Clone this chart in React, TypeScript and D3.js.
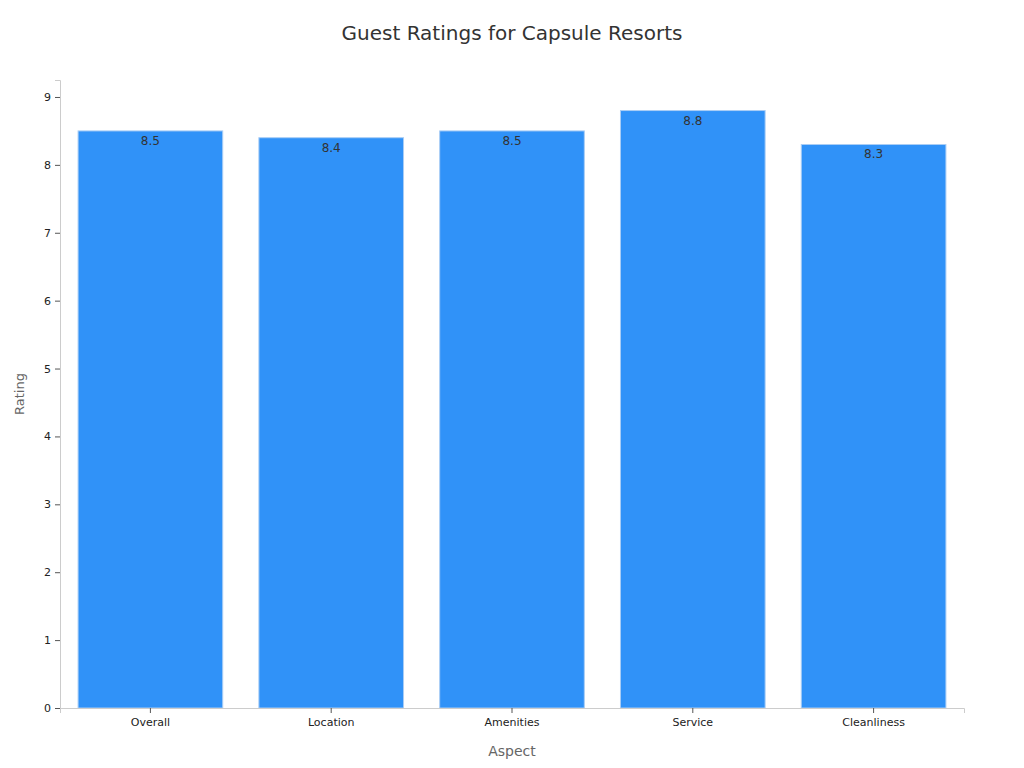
import React, { useEffect, useRef } from 'react';
import * as d3 from 'd3';

const aspects = ['Overall', 'Location', 'Amenities', 'Service', 'Cleanliness'];
const ratings = [8.5, 8.4, 8.5, 8.8, 8.3];
const yTicks = [0, 1, 2, 3, 4, 5, 6, 7, 8, 9];

const App: React.FC = () => {
  const svgRef = useRef<SVGSVGElement>(null);

  useEffect(() => {
    if (!svgRef.current) return;

    const W = 1024;
    const H = 768;
    const margin = { top: 80, right: 60, bottom: 60, left: 60 };
    const width = W - margin.left - margin.right;
    const height = 708 - margin.top;
    const font = 'DejaVu Sans, sans-serif';

    const root = d3.select(svgRef.current);
    root.selectAll('*').remove();
    root.attr('width', W).attr('height', H).style('font-family', font);

    root.append('text')
      .attr('x', W / 2)
      .attr('y', 40)
      .attr('text-anchor', 'middle')
      .attr('fill', '#333')
      .style('font-size', '20px')
      .text('Guest Ratings for Capsule Resorts');

    const svg = root.append('g')
      .attr('transform', `translate(${margin.left},${margin.top})`);

    const x = d3.scaleBand<string>()
      .domain(aspects)
      .range([0, width])
      .paddingInner(0.2)
      .paddingOuter(0.1);

    const y = d3.scaleLinear()
      .domain([0, 9.25])
      .range([height, 0]);

    const data = aspects.map((a, i) => ({ aspect: a, rating: ratings[i] }));

    svg.selectAll('rect.bar')
      .data(data)
      .enter()
      .append('rect')
      .attr('class', 'bar')
      .attr('x', d => x(d.aspect) || 0)
      .attr('y', d => y(d.rating))
      .attr('width', x.bandwidth())
      .attr('height', d => height - y(d.rating))
      .attr('fill', '#3092f8')
      .attr('stroke', '#a9cdf5')
      .attr('stroke-width', 1);

    svg.selectAll('text.val')
      .data(data)
      .enter()
      .append('text')
      .attr('class', 'val')
      .attr('x', d => (x(d.aspect) || 0) + x.bandwidth() / 2)
      .attr('y', d => y(d.rating) + 14)
      .attr('text-anchor', 'middle')
      .attr('fill', '#333')
      .style('font-size', '12px')
      .text(d => d.rating.toFixed(1));

    const xAxis = svg.append('g')
      .attr('transform', `translate(0,${height})`)
      .call(d3.axisBottom(x).tickSize(5).tickPadding(5));
    xAxis.attr('font-family', font);
    xAxis.selectAll('text').attr('fill', '#222').style('font-size', '11px');
    xAxis.select('.domain').attr('stroke', '#ccc');
    xAxis.selectAll('.tick line').attr('stroke', '#555');

    const yAxis = svg.append('g')
      .call(d3.axisLeft(y).tickValues(yTicks).tickSize(5).tickPadding(4));
    yAxis.attr('font-family', font);
    yAxis.selectAll('text').attr('fill', '#222').style('font-size', '11px');
    yAxis.select('.domain').attr('stroke', '#ccc');
    yAxis.selectAll('.tick line').attr('stroke', '#555');

    root.append('text')
      .attr('x', margin.left + width / 2)
      .attr('y', 756)
      .attr('text-anchor', 'middle')
      .attr('fill', '#666')
      .style('font-size', '14px')
      .text('Aspect');

    root.append('text')
      .attr('transform', `translate(24,${margin.top + height / 2}) rotate(-90)`)
      .attr('text-anchor', 'middle')
      .attr('fill', '#666')
      .style('font-size', '13px')
      .text('Rating');
  }, []);

  return (
    <div style={{ position: 'absolute', left: 0, top: 0 }}>
      <svg ref={svgRef}></svg>
    </div>
  );
};

export default App;
